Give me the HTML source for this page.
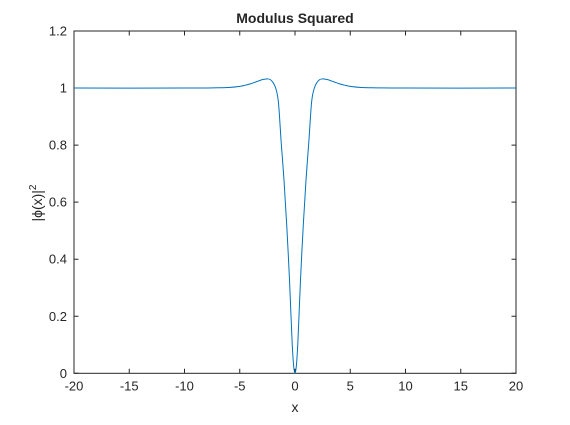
<!DOCTYPE html>
<html><head><meta charset="utf-8"><style>
body{margin:0;background:#fff;}
svg text{font-family:"Liberation Sans","DejaVu Sans",sans-serif;fill:#262626;}
</style></head><body>
<svg id="chart" width="570" height="420">
<rect x="0" y="0" width="570" height="420" fill="#fff"/>
<text x="295" y="23" text-anchor="middle" font-size="14" font-weight="bold">Modulus Squared</text>
<g id="axes"></g>
<text x="295" y="412" text-anchor="middle" font-size="14">x</text>
<text transform="translate(42,203) rotate(-90)" text-anchor="middle" font-size="14">|ϕ(x)|<tspan dy="-6" font-size="10">2</tspan></text>
</svg>
<script>
const xTicks=[-20,-15,-10,-5,0,5,10,15,20];
const yTicks=[0,0.2,0.4,0.6,0.8,1,1.2];
const yTickLabels=["0","0.2","0.4","0.6","0.8","1","1.2"];
const xs=[-20,-10,-7,-6,-5,-4.5,-4,-3.5,-3,-2.75,-2.5,-2.25,-2,-1.75,-1.5,-1.25,-1,-0.75,-0.5,-0.36,-0.25,-0.12,0,0.12,0.25,0.36,0.5,0.75,1,1.25,1.5,1.75,2,2.25,2.5,2.75,3,3.5,4,4.5,5,6,7,10,20];
const ys=[1,1,1.001,1.002,1.006,1.01,1.015,1.022,1.029,1.031,1.032,1.03,1.02,1.0,0.95,0.81,0.68,0.52,0.33,0.2,0.1,0.025,0,0.025,0.1,0.2,0.33,0.52,0.68,0.81,0.95,1.0,1.02,1.03,1.032,1.031,1.029,1.022,1.015,1.01,1.006,1.002,1.001,1,1];
const L=74,R=516,T=31,B=373.3;
const sx=v=>L+(v+20)/40*(R-L);
const sy=v=>B-v/1.2*(B-T);
const NS="http://www.w3.org/2000/svg";
const g=document.getElementById('axes');
function mk(t,a){const e=document.createElementNS(NS,t);for(const k in a)e.setAttribute(k,a[k]);return e;}
const box=mk('rect',{x:L,y:T,width:R-L,height:B-T,fill:'none',stroke:'#262626','stroke-width':1});


g.appendChild(box);
xTicks.forEach(v=>{
  const x=sx(v);
  const t1=mk('path',{d:`M${x},${B}V${B-4.5}M${x},${T}V${T+4.5}`,stroke:'#262626'});
  
  
  g.appendChild(t1);
  const tx=mk('text',{x:x,y:B+17,'text-anchor':'middle','font-size':13});
  tx.textContent=String(v);
  
  
  g.appendChild(tx);
});
yTicks.forEach((v,i)=>{
  const y=sy(v);
  const t1=mk('path',{d:`M${L},${y}H${L+4.5}M${R},${y}H${R-4.5}`,stroke:'#262626'});
  
  
  g.appendChild(t1);
  const tx=mk('text',{x:L-7,y:y+4.5,'text-anchor':'end','font-size':13});
  tx.textContent=yTickLabels[i];
  
  
  g.appendChild(tx);
});
// Catmull-Rom smooth path
const P=xs.map((x,i)=>[sx(x),sy(ys[i])]);
let d=`M${P[0][0]},${P[0][1]}`;
for(let i=0;i<P.length-1;i++){
  const p0=P[Math.max(0,i-1)],p1=P[i],p2=P[i+1],p3=P[Math.min(P.length-1,i+2)];
  const c1=[p1[0]+(p2[0]-p0[0])/6,p1[1]+(p2[1]-p0[1])/6];
  const c2=[p2[0]-(p3[0]-p1[0])/6,p2[1]-(p3[1]-p1[1])/6];
  d+=`C${c1[0]},${c1[1]} ${c2[0]},${c2[1]} ${p2[0]},${p2[1]}`;
}
const line=mk('path',{d:d,fill:'none',stroke:'#0072BD','stroke-width':1});


g.appendChild(line);
</script>
</body></html>
